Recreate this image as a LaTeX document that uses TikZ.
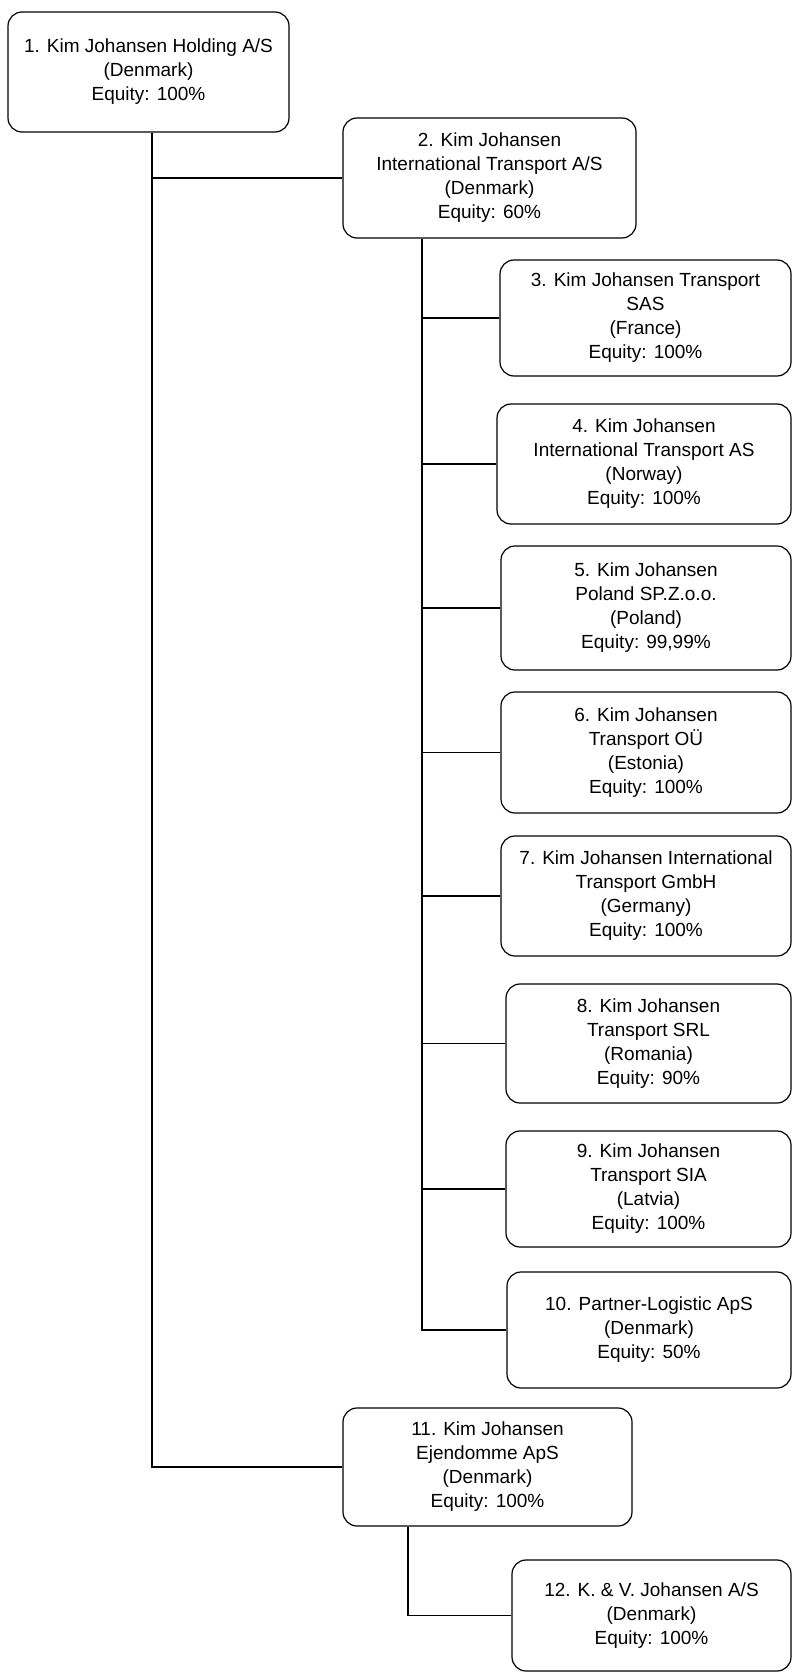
\documentclass[tikz,border=0pt]{standalone}
\usepackage{fontspec}
\setmainfont{Liberation Sans}
\tikzset{
	company/.style={draw, line width=1.2pt, rounded corners=14pt, align=center, inner sep=0pt, font=\fontsize{19}{24}\selectfont},
	link/.style={line width=1.2pt}
}

\begin{document}
\begin{tikzpicture}[x=1pt, y=-1pt]
		%%%%% START %%%%%
		\useasboundingbox (0, 0) rectangle (793, 1672);
		
		\node[company, minimum width=281, minimum height=120] (holding) at (148.5, 72) {1. Kim Johansen Holding A/S\\(Denmark)\\Equity: 100\%};
		\node[company, minimum width=293, minimum height=120] (intl) at (489.5, 178) {2. Kim Johansen\\International Transport A/S\\(Denmark)\\Equity: 60\%};
		
		\node[company, minimum width=291, minimum height=116] (sub3) at (645.5, 318) {3. Kim Johansen Transport\\SAS\\(France)\\Equity: 100\%};
		\node[company, minimum width=294, minimum height=120] (sub4) at (644, 464) {4. Kim Johansen\\International Transport AS\\(Norway)\\Equity: 100\%};
		\node[company, minimum width=290, minimum height=124] (sub5) at (646, 608) {5. Kim Johansen\\Poland SP.Z.o.o.\\(Poland)\\Equity: 99,99\%};
		\node[company, minimum width=290, minimum height=121] (sub6) at (646, 752.5) {6. Kim Johansen\\Transport OÜ\\(Estonia)\\Equity: 100\%};
		\node[company, minimum width=290, minimum height=120] (sub7) at (646, 896) {7. Kim Johansen International\\Transport GmbH\\(Germany)\\Equity: 100\%};
		\node[company, minimum width=285, minimum height=119] (sub8) at (648.5, 1043.5) {8. Kim Johansen\\Transport SRL\\(Romania)\\Equity: 90\%};
		\node[company, minimum width=285, minimum height=116] (sub9) at (648.5, 1189) {9. Kim Johansen\\Transport SIA\\(Latvia)\\Equity: 100\%};
		\node[company, minimum width=284, minimum height=116] (sub10) at (649, 1330) {10. Partner-Logistic ApS\\(Denmark)\\Equity: 50\%};
		
		\node[company, minimum width=289, minimum height=118] (ejendomme) at (487.5, 1467) {11. Kim Johansen\\Ejendomme ApS\\(Denmark)\\Equity: 100\%};
		\node[company, minimum width=279, minimum height=111] (kvjohansen) at (651.5, 1615.5) {12. K. \& V. Johansen A/S\\(Denmark)\\Equity: 100\%};
		
		\coordinate (trunk1) at ([xshift=3.5]holding.south);
		\coordinate (trunk2) at ([xshift=-67.5]intl.south);
		\coordinate (trunk3) at ([xshift=-79.5]ejendomme.south);
		
		\draw[link] (trunk1) |- (ejendomme.west);
		\draw[link] (trunk1 |- intl.west) -- (intl.west);
		
		\draw[link] (trunk2) |- (sub10.west);
		\foreach \n in {3,...,9}
			\draw[link] (trunk2 |- sub\n.west) -- (sub\n.west);
		
		\draw[link] (trunk3) |- (kvjohansen.west);
		
		%%%%% END %%%%%
	\end{tikzpicture}
\end{document}
